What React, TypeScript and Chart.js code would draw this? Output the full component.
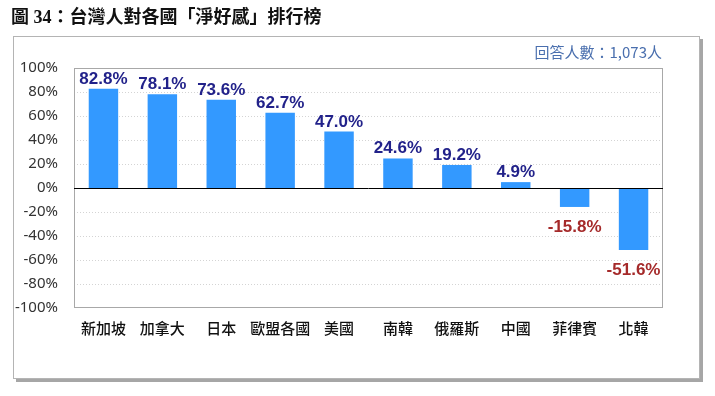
import React, { useEffect, useRef } from "react";
import { Chart, registerables } from "chart.js";

Chart.register(...registerables);

const categories = ["新加坡", "加拿大", "日本", "歐盟各國", "美國", "南韓", "俄羅斯", "中國", "菲律賓", "北韓"];
const netFavorability = [82.8, 78.1, 73.6, 62.7, 47.0, 24.6, 19.2, 4.9, -15.8, -51.6];
const yTickValues = [-100, -80, -60, -40, -20, 0, 20, 40, 60, 80, 100];
const titleText = "圖 34：台灣人對各國「淨好感」排行榜";
const sampleText = "回答人數：1,073人";

const decorPlugin = {
  id: "decor",
  beforeDraw(chart: any) {
    const ctx = chart.ctx;
    ctx.save();
    ctx.fillStyle = "#ffffff";
    ctx.fillRect(0, 0, chart.width, chart.height);
    // frame shadow
    ctx.fillStyle = "#a6a6a6";
    ctx.fillRect(16, 378, 687, 4);
    ctx.fillRect(699, 39, 4, 343);
    // frame
    ctx.strokeStyle = "#b4b4b4";
    ctx.lineWidth = 1;
    ctx.strokeRect(13.5, 36.5, 686, 342);
    // title
    ctx.fillStyle = "#111111";
    ctx.font = "bold 18px 'Liberation Serif', 'Noto Sans CJK TC', serif";
    ctx.textAlign = "left";
    ctx.textBaseline = "middle";
    ctx.fillText(titleText, 11, 18);
    // sample size
    ctx.fillStyle = "#4a6fae";
    ctx.font = "15px 'Noto Sans CJK TC', 'Liberation Sans', sans-serif";
    ctx.textAlign = "right";
    ctx.fillText(sampleText, 662, 52);
    ctx.restore();
  },
  beforeDatasetsDraw(chart: any) {
    const { ctx, chartArea: a, scales } = chart;
    const y = scales.y;
    ctx.save();
    ctx.lineWidth = 1;
    ctx.strokeStyle = "#d4d4d4";
    ctx.setLineDash([1, 2]);
    yTickValues.forEach((v) => {
      if (v === 0 || v === 100 || v === -100) return;
      const py = Math.round(y.getPixelForValue(v)) + 0.5;
      ctx.beginPath();
      ctx.moveTo(a.left, py);
      ctx.lineTo(a.right, py);
      ctx.stroke();
    });
    ctx.setLineDash([]);
    ctx.strokeStyle = "#a8a8a8";
    ctx.strokeRect(Math.round(a.left) + 0.5, Math.round(a.top) + 0.5, Math.round(a.right - a.left) - 1, Math.round(a.bottom - a.top) - 1);
    ctx.restore();
  },
  afterDatasetsDraw(chart: any) {
    const { ctx, chartArea: a, scales } = chart;
    const y = scales.y;
    ctx.save();
    const z = Math.round(y.getPixelForValue(0)) + 0.5;
    ctx.strokeStyle = "#000000";
    ctx.lineWidth = 1;
    ctx.beginPath();
    ctx.moveTo(a.left, z);
    ctx.lineTo(a.right, z);
    ctx.stroke();

    const meta = chart.getDatasetMeta(0);
    ctx.font = "bold 17px 'Liberation Sans', Arial, sans-serif";
    ctx.textAlign = "center";
    ctx.textBaseline = "alphabetic";
    meta.data.forEach((bar: any, i: number) => {
      const v = netFavorability[i];
      const label = v.toFixed(1) + "%";
      if (v >= 0) {
        ctx.fillStyle = "#22228a";
        ctx.fillText(label, bar.x, bar.y - 5);
      } else {
        ctx.fillStyle = "#a52a2a";
        ctx.fillText(label, bar.x, bar.y + 25);
      }
    });
    ctx.restore();
  },
};

export default function App() {
  const canvasRef = useRef<HTMLCanvasElement | null>(null);

  useEffect(() => {
    if (!canvasRef.current) return;
    const chart = new Chart(canvasRef.current, {
      type: "bar",
      data: {
        labels: categories,
        datasets: [
          {
            data: netFavorability,
            backgroundColor: "#3399ff",
            borderWidth: 0,
            barPercentage: 0.5,
            categoryPercentage: 1,
          },
        ],
      },
      options: {
        responsive: false,
        animation: false,
        devicePixelRatio: 1,
        layout: { padding: { top: 68, right: 52, left: 0, bottom: 0 } },
        plugins: {
          legend: { display: false },
          tooltip: { enabled: false },
          title: { display: false },
        },
        scales: {
          x: {
            grid: { display: false, drawTicks: false },
            border: { display: false },
            ticks: {
              color: "#111111",
              font: { size: 15, weight: "500", family: "'Noto Sans CJK TC', sans-serif" },
              padding: 11,
              maxRotation: 0,
              autoSkip: false,
            },
            afterFit: (scale: any) => {
              scale.height = 88;
            },
          },
          y: {
            min: -100,
            max: 100,
            grid: { display: false, drawTicks: false },
            border: { display: false },
            afterBuildTicks: (scale: any) => {
              scale.ticks = yTickValues.map((v) => ({ value: v }));
            },
            ticks: {
              color: "#333333",
              font: { size: 15, family: "'Noto Sans', 'Liberation Sans', sans-serif" },
              padding: 16,
              callback: (v: any) => v + "%",
            },
            afterFit: (scale: any) => {
              scale.width = 74;
            },
          },
        },
      },
      plugins: [decorPlugin],
    });
    return () => chart.destroy();
  }, []);

  return (
    <div style={{ position: "fixed", left: 0, top: 0, width: 715, height: 396, background: "#fff" }}>
      <canvas ref={canvasRef} width={715} height={396} style={{ display: "block" }} />
    </div>
  );
}
